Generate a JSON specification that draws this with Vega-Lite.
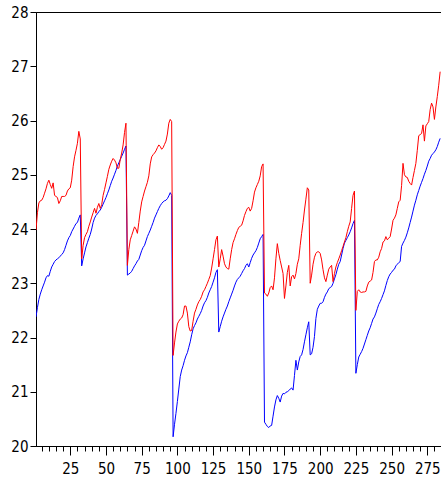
{
"$schema": "https://vega.github.io/schema/vega-lite/v6.json",
"autosize": "none",
"padding": {"left": 36, "top": 12, "right": 0, "bottom": 42},
"width": 405,
"height": 434,
"config": {
  "view": {"stroke": "black", "strokeWidth": 1},
  "axis": {"labelFont": "'Liberation Sans Narrow', 'Arial Narrow', 'DejaVu Sans Condensed', 'Liberation Sans', sans-serif", "labelFontSize": 15, "labelColor": "black", "domainColor": "black", "tickColor": "black", "grid": false, "title": null, "labelFlush": false, "labelOverlap": false}
},
"data": {"values": [
{"obs":1,"red":23.98,"blue":22.38},{"obs":2,"red":24.30,"blue":22.55},{"obs":3,"red":24.48,"blue":22.70},{"obs":4,"red":24.52,"blue":22.80},{"obs":5,"red":24.53,"blue":22.88},
{"obs":6,"red":24.58,"blue":22.95},{"obs":7,"red":24.66,"blue":23.02},{"obs":8,"red":24.74,"blue":23.10},{"obs":9,"red":24.84,"blue":23.14},{"obs":10,"red":24.90,"blue":23.13},
{"obs":11,"red":24.82,"blue":23.22},{"obs":12,"red":24.75,"blue":23.30},{"obs":13,"red":24.85,"blue":23.35},{"obs":14,"red":24.62,"blue":23.40},{"obs":15,"red":24.60,"blue":23.43},
{"obs":16,"red":24.58,"blue":23.45},{"obs":17,"red":24.47,"blue":23.47},{"obs":18,"red":24.52,"blue":23.50},{"obs":19,"red":24.60,"blue":23.53},{"obs":20,"red":24.60,"blue":23.56},
{"obs":21,"red":24.60,"blue":23.62},{"obs":22,"red":24.62,"blue":23.70},{"obs":23,"red":24.70,"blue":23.78},{"obs":24,"red":24.74,"blue":23.84},{"obs":25,"red":24.76,"blue":23.88},
{"obs":26,"red":24.90,"blue":23.95},{"obs":27,"red":25.15,"blue":24.00},{"obs":28,"red":25.33,"blue":24.05},{"obs":29,"red":25.45,"blue":24.10},{"obs":30,"red":25.58,"blue":24.12},
{"obs":31,"red":25.80,"blue":24.20},{"obs":32,"red":25.66,"blue":24.26},{"obs":33,"red":23.45,"blue":23.32},{"obs":34,"red":23.70,"blue":23.45},{"obs":35,"red":23.84,"blue":23.56},
{"obs":36,"red":23.90,"blue":23.67},{"obs":37,"red":23.95,"blue":23.75},{"obs":38,"red":24.05,"blue":23.83},{"obs":39,"red":24.13,"blue":23.90},{"obs":40,"red":24.22,"blue":24.00},
{"obs":41,"red":24.30,"blue":24.12},{"obs":42,"red":24.38,"blue":24.20},{"obs":43,"red":24.29,"blue":24.25},{"obs":44,"red":24.40,"blue":24.28},{"obs":45,"red":24.47,"blue":24.32},
{"obs":46,"red":24.38,"blue":24.35},{"obs":47,"red":24.45,"blue":24.40},{"obs":48,"red":24.62,"blue":24.46},{"obs":49,"red":24.73,"blue":24.52},{"obs":50,"red":24.85,"blue":24.58},
{"obs":51,"red":24.97,"blue":24.65},{"obs":52,"red":25.10,"blue":24.72},{"obs":53,"red":25.18,"blue":24.80},{"obs":54,"red":25.25,"blue":24.88},{"obs":55,"red":25.30,"blue":24.94},
{"obs":56,"red":25.27,"blue":25.01},{"obs":57,"red":25.22,"blue":25.08},{"obs":58,"red":25.12,"blue":25.16},{"obs":59,"red":25.12,"blue":25.22},{"obs":60,"red":25.28,"blue":25.28},
{"obs":61,"red":25.40,"blue":25.34},{"obs":62,"red":25.55,"blue":25.40},{"obs":63,"red":25.78,"blue":25.47},{"obs":64,"red":25.95,"blue":25.53},{"obs":65,"red":23.33,"blue":23.15},
{"obs":66,"red":23.62,"blue":23.17},{"obs":67,"red":23.80,"blue":23.19},{"obs":68,"red":23.88,"blue":23.22},{"obs":69,"red":23.96,"blue":23.27},{"obs":70,"red":24.04,"blue":23.32},
{"obs":71,"red":24.00,"blue":23.36},{"obs":72,"red":23.92,"blue":23.41},{"obs":73,"red":24.12,"blue":23.44},{"obs":74,"red":24.33,"blue":23.52},{"obs":75,"red":24.50,"blue":23.60},
{"obs":76,"red":24.60,"blue":23.66},{"obs":77,"red":24.70,"blue":23.70},{"obs":78,"red":24.78,"blue":23.78},{"obs":79,"red":24.86,"blue":23.86},{"obs":80,"red":24.98,"blue":23.92},
{"obs":81,"red":25.20,"blue":23.98},{"obs":82,"red":25.33,"blue":24.05},{"obs":83,"red":25.37,"blue":24.12},{"obs":84,"red":25.40,"blue":24.20},{"obs":85,"red":25.44,"blue":24.26},
{"obs":86,"red":25.50,"blue":24.32},{"obs":87,"red":25.55,"blue":24.38},{"obs":88,"red":25.52,"blue":24.43},{"obs":89,"red":25.47,"blue":24.47},{"obs":90,"red":25.50,"blue":24.50},
{"obs":91,"red":25.56,"blue":24.52},{"obs":92,"red":25.62,"blue":24.53},{"obs":93,"red":25.75,"blue":24.56},{"obs":94,"red":25.95,"blue":24.61},{"obs":95,"red":26.02,"blue":24.67},
{"obs":96,"red":25.98,"blue":24.62},{"obs":97,"red":21.67,"blue":20.17},{"obs":98,"red":21.90,"blue":20.40},{"obs":99,"red":22.10,"blue":20.60},{"obs":100,"red":22.25,"blue":20.82},
{"obs":101,"red":22.30,"blue":21.05},{"obs":102,"red":22.34,"blue":21.28},{"obs":103,"red":22.36,"blue":21.40},{"obs":104,"red":22.42,"blue":21.48},{"obs":105,"red":22.58,"blue":21.58},
{"obs":106,"red":22.58,"blue":21.66},{"obs":107,"red":22.45,"blue":21.72},{"obs":108,"red":22.20,"blue":21.82},{"obs":109,"red":22.12,"blue":21.92},{"obs":110,"red":22.13,"blue":22.05},
{"obs":111,"red":22.30,"blue":22.16},{"obs":112,"red":22.45,"blue":22.22},{"obs":113,"red":22.52,"blue":22.27},{"obs":114,"red":22.60,"blue":22.34},{"obs":115,"red":22.66,"blue":22.39},
{"obs":116,"red":22.70,"blue":22.44},{"obs":117,"red":22.76,"blue":22.50},{"obs":118,"red":22.84,"blue":22.58},{"obs":119,"red":22.88,"blue":22.64},{"obs":120,"red":22.94,"blue":22.68},
{"obs":121,"red":23.00,"blue":22.74},{"obs":122,"red":23.07,"blue":22.82},{"obs":123,"red":23.14,"blue":22.88},{"obs":124,"red":23.28,"blue":22.94},{"obs":125,"red":23.45,"blue":23.02},
{"obs":126,"red":23.62,"blue":23.10},{"obs":127,"red":23.80,"blue":23.20},{"obs":128,"red":23.87,"blue":23.25},{"obs":129,"red":23.30,"blue":22.10},{"obs":130,"red":23.45,"blue":22.20},
{"obs":131,"red":23.62,"blue":22.30},{"obs":132,"red":23.50,"blue":22.38},{"obs":133,"red":23.36,"blue":22.45},{"obs":134,"red":23.30,"blue":22.52},{"obs":135,"red":23.27,"blue":22.58},
{"obs":136,"red":23.26,"blue":22.66},{"obs":137,"red":23.45,"blue":22.73},{"obs":138,"red":23.62,"blue":22.80},{"obs":139,"red":23.75,"blue":22.87},{"obs":140,"red":23.82,"blue":22.95},
{"obs":141,"red":23.90,"blue":23.02},{"obs":142,"red":23.97,"blue":23.07},{"obs":143,"red":24.03,"blue":23.10},{"obs":144,"red":24.05,"blue":23.13},{"obs":145,"red":24.07,"blue":23.18},
{"obs":146,"red":24.15,"blue":23.23},{"obs":147,"red":24.25,"blue":23.27},{"obs":148,"red":24.32,"blue":23.33},{"obs":149,"red":24.38,"blue":23.36},{"obs":150,"red":24.40,"blue":23.30},
{"obs":151,"red":24.33,"blue":23.38},{"obs":152,"red":24.38,"blue":23.46},{"obs":153,"red":24.52,"blue":23.52},{"obs":154,"red":24.68,"blue":23.56},{"obs":155,"red":24.76,"blue":23.60},
{"obs":156,"red":24.82,"blue":23.66},{"obs":157,"red":24.88,"blue":23.74},{"obs":158,"red":24.98,"blue":23.82},{"obs":159,"red":25.15,"blue":23.86},{"obs":160,"red":25.20,"blue":23.90},
{"obs":161,"red":22.82,"blue":20.44},{"obs":162,"red":22.80,"blue":20.40},{"obs":163,"red":22.76,"blue":20.36},{"obs":164,"red":22.82,"blue":20.34},{"obs":165,"red":22.92,"blue":20.37},
{"obs":166,"red":22.95,"blue":20.38},{"obs":167,"red":22.88,"blue":20.55},{"obs":168,"red":23.10,"blue":20.72},{"obs":169,"red":23.45,"blue":20.85},{"obs":170,"red":23.73,"blue":20.93},
{"obs":171,"red":23.55,"blue":20.88},{"obs":172,"red":23.42,"blue":20.81},{"obs":173,"red":23.30,"blue":20.92},{"obs":174,"red":23.18,"blue":20.97},{"obs":175,"red":22.72,"blue":20.96},
{"obs":176,"red":22.95,"blue":20.99},{"obs":177,"red":23.20,"blue":21.00},{"obs":178,"red":23.33,"blue":21.02},{"obs":179,"red":22.95,"blue":21.05},{"obs":180,"red":23.12,"blue":21.07},
{"obs":181,"red":23.15,"blue":21.03},{"obs":182,"red":23.08,"blue":21.30},{"obs":183,"red":23.18,"blue":21.58},{"obs":184,"red":23.35,"blue":21.40},{"obs":185,"red":23.45,"blue":21.55},
{"obs":186,"red":23.70,"blue":21.65},{"obs":187,"red":23.92,"blue":21.68},{"obs":188,"red":24.12,"blue":21.78},{"obs":189,"red":24.35,"blue":21.92},{"obs":190,"red":24.55,"blue":22.05},
{"obs":191,"red":24.76,"blue":22.18},{"obs":192,"red":24.72,"blue":22.29},{"obs":193,"red":23.00,"blue":21.68},{"obs":194,"red":23.15,"blue":21.70},{"obs":195,"red":23.35,"blue":21.82},
{"obs":196,"red":23.48,"blue":22.02},{"obs":197,"red":23.55,"blue":22.35},{"obs":198,"red":23.58,"blue":22.52},{"obs":199,"red":23.58,"blue":22.58},{"obs":200,"red":23.55,"blue":22.63},
{"obs":201,"red":23.43,"blue":22.63},{"obs":202,"red":23.25,"blue":22.66},{"obs":203,"red":23.10,"blue":22.74},{"obs":204,"red":23.03,"blue":22.80},{"obs":205,"red":23.15,"blue":22.84},
{"obs":206,"red":23.26,"blue":22.90},{"obs":207,"red":23.30,"blue":22.92},{"obs":208,"red":23.33,"blue":22.94},{"obs":209,"red":23.03,"blue":23.00},{"obs":210,"red":23.18,"blue":23.08},
{"obs":211,"red":23.30,"blue":23.16},{"obs":212,"red":23.38,"blue":23.26},{"obs":213,"red":23.45,"blue":23.35},{"obs":214,"red":23.52,"blue":23.40},{"obs":215,"red":23.60,"blue":23.52},
{"obs":216,"red":23.68,"blue":23.64},{"obs":217,"red":23.76,"blue":23.74},{"obs":218,"red":23.84,"blue":23.79},{"obs":219,"red":23.95,"blue":23.84},{"obs":220,"red":24.05,"blue":23.89},
{"obs":221,"red":24.13,"blue":23.95},{"obs":222,"red":24.38,"blue":24.02},{"obs":223,"red":24.62,"blue":24.10},{"obs":224,"red":24.70,"blue":24.16},{"obs":225,"red":22.50,"blue":21.34},
{"obs":226,"red":22.85,"blue":21.50},{"obs":227,"red":22.88,"blue":21.64},{"obs":228,"red":22.84,"blue":21.69},{"obs":229,"red":22.83,"blue":21.74},{"obs":230,"red":22.84,"blue":21.80},
{"obs":231,"red":22.84,"blue":21.88},{"obs":232,"red":22.85,"blue":21.96},{"obs":233,"red":22.95,"blue":22.04},{"obs":234,"red":23.02,"blue":22.12},{"obs":235,"red":23.04,"blue":22.18},
{"obs":236,"red":23.06,"blue":22.26},{"obs":237,"red":23.20,"blue":22.34},{"obs":238,"red":23.40,"blue":22.38},{"obs":239,"red":23.43,"blue":22.45},{"obs":240,"red":23.43,"blue":22.53},
{"obs":241,"red":23.48,"blue":22.61},{"obs":242,"red":23.58,"blue":22.66},{"obs":243,"red":23.64,"blue":22.72},{"obs":244,"red":23.76,"blue":22.79},{"obs":245,"red":23.78,"blue":22.86},
{"obs":246,"red":23.86,"blue":22.96},{"obs":247,"red":23.80,"blue":23.05},{"obs":248,"red":23.83,"blue":23.12},{"obs":249,"red":23.86,"blue":23.17},{"obs":250,"red":24.00,"blue":23.20},
{"obs":251,"red":24.16,"blue":23.24},{"obs":252,"red":24.20,"blue":23.26},{"obs":253,"red":24.26,"blue":23.32},{"obs":254,"red":24.38,"blue":23.35},{"obs":255,"red":24.50,"blue":23.38},
{"obs":256,"red":24.53,"blue":23.40},{"obs":257,"red":24.80,"blue":23.68},{"obs":258,"red":25.21,"blue":23.74},{"obs":259,"red":25.00,"blue":23.79},{"obs":260,"red":24.96,"blue":23.85},
{"obs":261,"red":24.95,"blue":23.93},{"obs":262,"red":24.88,"blue":24.02},{"obs":263,"red":24.84,"blue":24.12},{"obs":264,"red":24.81,"blue":24.22},{"obs":265,"red":24.95,"blue":24.33},
{"obs":266,"red":25.08,"blue":24.44},{"obs":267,"red":25.21,"blue":24.53},{"obs":268,"red":25.45,"blue":24.63},{"obs":269,"red":25.72,"blue":24.71},{"obs":270,"red":25.74,"blue":24.79},
{"obs":271,"red":25.76,"blue":24.86},{"obs":272,"red":25.92,"blue":24.93},{"obs":273,"red":25.62,"blue":25.01},{"obs":274,"red":25.90,"blue":25.08},{"obs":275,"red":25.94,"blue":25.16},
{"obs":276,"red":25.98,"blue":25.25},{"obs":277,"red":26.20,"blue":25.30},{"obs":278,"red":26.32,"blue":25.36},{"obs":279,"red":26.25,"blue":25.39},{"obs":280,"red":26.02,"blue":25.42},
{"obs":281,"red":26.25,"blue":25.46},{"obs":282,"red":26.44,"blue":25.52},{"obs":283,"red":26.65,"blue":25.60},{"obs":284,"red":26.90,"blue":25.67}
]},
"layer": [
  {
    "mark": {"type": "line", "color": "#0000FF", "strokeWidth": 1, "clip": true},
    "encoding": {
      "x": {"field": "obs", "type": "quantitative", "scale": {"domain": [1, 284.6], "nice": false, "zero": false},
            "axis": {"orient": "bottom", "values": [5,10,15,20,25,30,35,40,45,50,55,60,65,70,75,80,85,90,95,100,105,110,115,120,125,130,135,140,145,150,155,160,165,170,175,180,185,190,195,200,205,210,215,220,225,230,235,240,245,250,255,260,265,270,275,280], "tickSize": 5, "labels": false, "domain": false}},
      "y": {"field": "blue", "type": "quantitative", "scale": {"domain": [20, 28], "nice": false, "zero": false},
            "axis": {"values": [20,21,22,23,24,25,26,27,28], "tickSize": 6, "labelPadding": 2}}
    }
  },
  {
    "mark": {"type": "line", "color": "#FF0000", "strokeWidth": 1, "clip": true},
    "encoding": {
      "x": {"field": "obs", "type": "quantitative", "scale": {"domain": [1, 284.6], "nice": false, "zero": false},
            "axis": {"orient": "bottom", "values": [25,50,75,100,125,150,175,200,225,250,275], "tickSize": 9, "labelPadding": 6}},
      "y": {"field": "red", "type": "quantitative", "scale": {"domain": [20, 28], "nice": false, "zero": false},
            "axis": {"values": [20,21,22,23,24,25,26,27,28], "tickSize": 6, "labelPadding": 2}}
    }
  }
],
"resolve": {"axis": {"x": "independent"}}
}
